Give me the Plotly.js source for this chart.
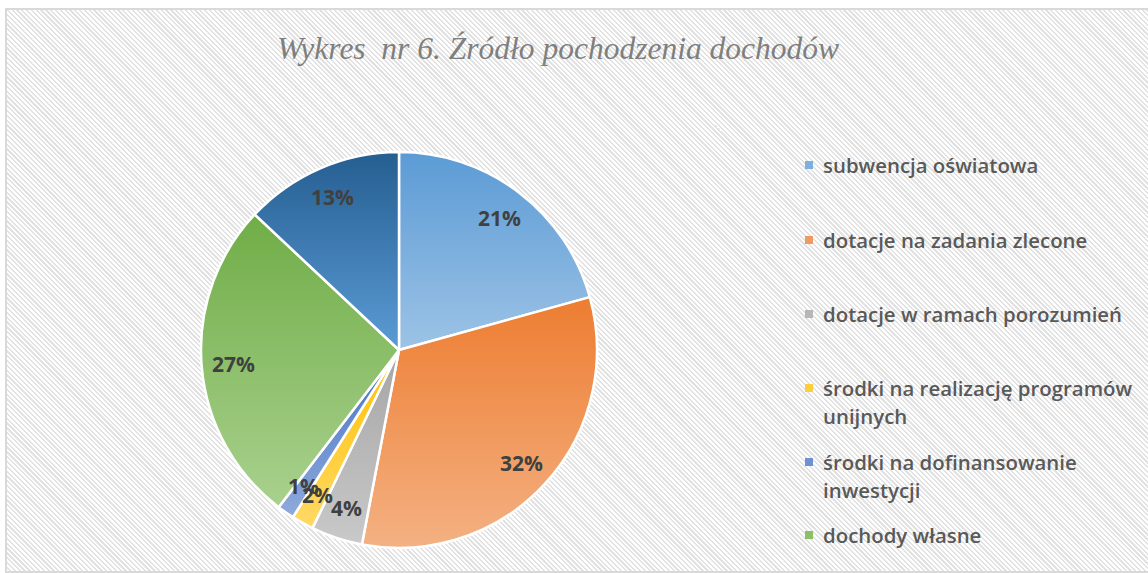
<!DOCTYPE html>
<html>
<head>
<meta charset="utf-8">
<script src="https://cdn.plot.ly/plotly-3.0.1.min.js"></script>
<style>
  html, body { margin: 0; padding: 0; background: #ffffff; }
  #wrap { position: relative; width: 1148px; height: 573px; overflow: hidden; background: #ffffff; }
  #frame {
    position: absolute; left: 5px; top: 8px; width: 1160px; height: 561px;
    border: 2px solid #d9d9d9;
    background: repeating-linear-gradient(45deg, #ffffff 0px, #ffffff 1.8px, #e2e2e2 1.8px, #e2e2e2 3.4px);
  }
  #chart { position: absolute; left: 0; top: 0; width: 1148px; height: 573px; }
</style>
</head>
<body>
<div id="wrap">
  <div id="frame"></div>
  <div id="chart"></div>
</div>
<script>
// ---- data ----
const categories = [
  'subwencja oświatowa',
  'dotacje na zadania zlecone',
  'dotacje w ramach porozumień',
  'środki na realizację programów unijnych',
  'środki na dofinansowanie inwestycji',
  'dochody własne',
  'pozostałe'
];
const values = [20.7, 32.3, 4.2, 1.8, 1.4, 26.6, 13.0];
const legendTexts = [
  ['subwencja oświatowa'],
  ['dotacje na zadania zlecone'],
  ['dotacje w ramach porozumień'],
  ['środki na realizację programów', 'unijnych'],
  ['środki na dofinansowanie', 'inwestycji'],
  ['dochody własne']
];
const titleText = 'Wykres&nbsp;&nbsp;nr 6. Źródło pochodzenia dochodów';

// ---- styles ----
const colors = ['#7cb0de', '#f09a60', '#b7b7b7', '#ffcd3c', '#6f90d2', '#8cbf68', '#3f7db8'];
const gradTop = ['#5b9bd5', '#ed7d31', '#a5a5a5', '#ffc000', '#4472c4', '#70ad47', '#255e91'];
const gradBot = ['#9dc3e6', '#f4b183', '#c9c9c9', '#ffd966', '#8faadc', '#a9d18e', '#5b9bd5'];

const W = 1148, H = 573;
const cx = 399, cy = 350, R = 198;        // pie geometry in px
const labelRadius = 0.84;
const legendRowsY = [165, 240, 314, 388, 462, 535]; // first-line centres in px
const legendLineGap = 28;
const legendMarkerX = 809, legendTextX = 821;

const domain = {
  x: [(cx - R) / W, (cx + R) / W],
  y: [1 - (cy + R) / H, 1 - (cy - R) / H]
};

const trace = {
  type: 'pie',
  labels: categories,
  values: values,
  sort: false,
  direction: 'clockwise',
  rotation: 0,
  domain: domain,
  textinfo: 'none',
  hoverinfo: 'label+percent',
  showlegend: false,
  marker: { colors: colors, line: { color: '#ffffff', width: 2.5 } }
};

const annotations = [];
const shapes = [];

// percentage labels placed along each slice bisector
const total = values.reduce((a, b) => a + b, 0);
let cum = 0;
values.forEach((v, i) => {
  const th = 2 * Math.PI * (cum + v / 2) / total;
  cum += v;
  const px = cx + labelRadius * R * Math.sin(th);
  const py = cy - labelRadius * R * Math.cos(th);
  annotations.push({
    xref: 'paper', yref: 'paper', x: px / W, y: 1 - py / H,
    xanchor: 'center', yanchor: 'middle', showarrow: false,
    text: Math.round(v / total * 100) + '%',
    font: { family: 'Open Sans, sans-serif', size: 21, color: '#404040', weight: 700 }
  });
});

// legend (first six categories)
legendTexts.forEach((lines, i) => {
  const y0 = legendRowsY[i];
  shapes.push({
    type: 'rect', xref: 'paper', yref: 'paper',
    x0: (legendMarkerX - 4) / W, x1: (legendMarkerX + 4) / W,
    y0: 1 - (y0 + 4) / H, y1: 1 - (y0 - 4) / H,
    fillcolor: colors[i], line: { width: 0 }
  });
  lines.forEach((ln, k) => {
    annotations.push({
      xref: 'paper', yref: 'paper', x: legendTextX / W, y: 1 - (y0 + k * legendLineGap) / H,
      xanchor: 'left', yanchor: 'middle', showarrow: false, text: ln,
      font: { family: 'Open Sans, sans-serif', size: 20.4, color: '#595959', weight: 600 }
    });
  });
});

const layout = {
  width: W, height: H,
  margin: { l: 0, r: 0, t: 0, b: 0 },
  paper_bgcolor: 'rgba(0,0,0,0)',
  plot_bgcolor: 'rgba(0,0,0,0)',
  title: {
    text: titleText,
    x: 558 / W, xanchor: 'center',
    y: 1 - 48 / H, yanchor: 'middle',
    font: { family: 'Liberation Serif, serif', size: 31.5, color: '#7f7f7f', style: 'italic' }
  },
  annotations: annotations,
  shapes: shapes,
  showlegend: false
};

Plotly.newPlot('chart', [trace], layout, { displayModeBar: false, staticPlot: true }).then(gd => {
  // vertical gradient fills for each slice
  const svg = gd.querySelector('svg.main-svg');
  const ns = 'http://www.w3.org/2000/svg';
  let defs = svg.querySelector('defs');
  if (!defs) { defs = document.createElementNS(ns, 'defs'); svg.insertBefore(defs, svg.firstChild); }
  const paths = gd.querySelectorAll('g.slice path.surface');
  paths.forEach((p, i) => {
    const g = document.createElementNS(ns, 'linearGradient');
    g.setAttribute('id', 'sliceGrad' + i);
    g.setAttribute('x1', '0'); g.setAttribute('y1', '0');
    g.setAttribute('x2', '0'); g.setAttribute('y2', '1');
    const s1 = document.createElementNS(ns, 'stop');
    s1.setAttribute('offset', '0'); s1.setAttribute('stop-color', gradTop[i]);
    const s2 = document.createElementNS(ns, 'stop');
    s2.setAttribute('offset', '1'); s2.setAttribute('stop-color', gradBot[i]);
    g.appendChild(s1); g.appendChild(s2);
    defs.appendChild(g);
    p.style.fill = 'url(#sliceGrad' + i + ')';
  });
});
</script>
</body>
</html>
